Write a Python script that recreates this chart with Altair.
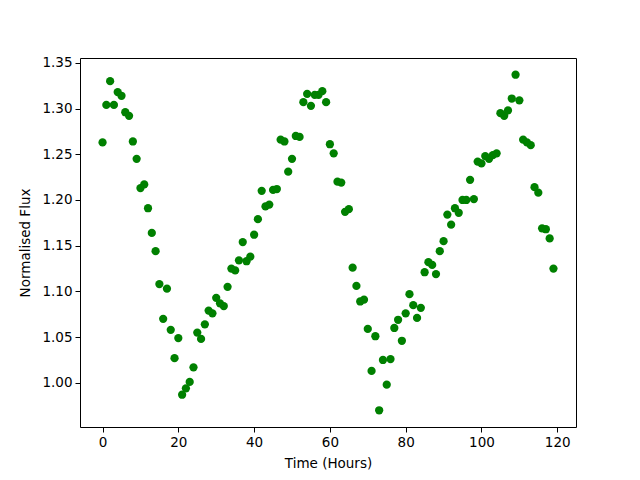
import altair as alt
import pandas as pd

time_hours = list(range(120))
flux = [
    1.263, 1.304, 1.330, 1.304, 1.318, 1.314, 1.296, 1.292, 1.264, 1.245,
    1.213, 1.217, 1.191, 1.164, 1.144, 1.108, 1.070, 1.103, 1.058, 1.027,
    1.049, 0.987, 0.994, 1.001, 1.017, 1.055, 1.048, 1.064, 1.079, 1.076,
    1.093, 1.087, 1.084, 1.105, 1.125, 1.123, 1.134, 1.154, 1.133, 1.138,
    1.162, 1.179, 1.210, 1.193, 1.195, 1.211, 1.212, 1.266, 1.264, 1.231,
    1.245, 1.270, 1.269, 1.307, 1.316, 1.303, 1.315, 1.315, 1.319, 1.307,
    1.261, 1.251, 1.220, 1.219, 1.187, 1.190, 1.126, 1.106, 1.089, 1.091,
    1.059, 1.013, 1.051, 0.970, 1.025, 0.998, 1.026, 1.060, 1.069, 1.046,
    1.076, 1.097, 1.085, 1.071, 1.082, 1.121, 1.132, 1.129, 1.119, 1.144,
    1.155, 1.184, 1.173, 1.191, 1.186, 1.200, 1.200, 1.222, 1.201, 1.242,
    1.240, 1.248, 1.245, 1.249, 1.251, 1.295, 1.292, 1.298, 1.311, 1.337,
    1.309, 1.266, 1.263, 1.260, 1.214, 1.208, 1.169, 1.168, 1.158, 1.125,
]
x_ticks = [0, 20, 40, 60, 80, 100, 120]
y_ticks = [1.00, 1.05, 1.10, 1.15, 1.20, 1.25, 1.30, 1.35]

df = pd.DataFrame({"t": time_hours, "flux": flux})

axis_common = dict(
    labelFont="DejaVu Sans", labelFontSize=13.5, labelColor="black",
    titleFont="DejaVu Sans", titleFontSize=13.5, titleFontWeight="normal", titleColor="black",
    tickColor="black", tickSize=5, domain=False, grid=False, labelPadding=3,
)

chart = alt.Chart(df).mark_circle(size=68, color="#008000", opacity=1).encode(
    x=alt.X("t:Q", title="Time (Hours)",
            scale=alt.Scale(domain=[-5.95, 124.95], nice=False, zero=False),
            axis=alt.Axis(values=x_ticks, format="d", titlePadding=8, **axis_common)),
    y=alt.Y("flux:Q", title="Normalised Flux",
            scale=alt.Scale(domain=[0.9517, 1.3553], nice=False, zero=False),
            axis=alt.Axis(values=y_ticks, format=".2f", titlePadding=9, **axis_common)),
).properties(
    width=496, height=369,
    autosize=alt.AutoSizeParams(type="none"),
    padding={"left": 72, "top": 50, "right": 56, "bottom": 45},
).configure_view(stroke="black", strokeWidth=1)

chart.save("out.html", embed_options={"renderer": "svg", "actions": False})
